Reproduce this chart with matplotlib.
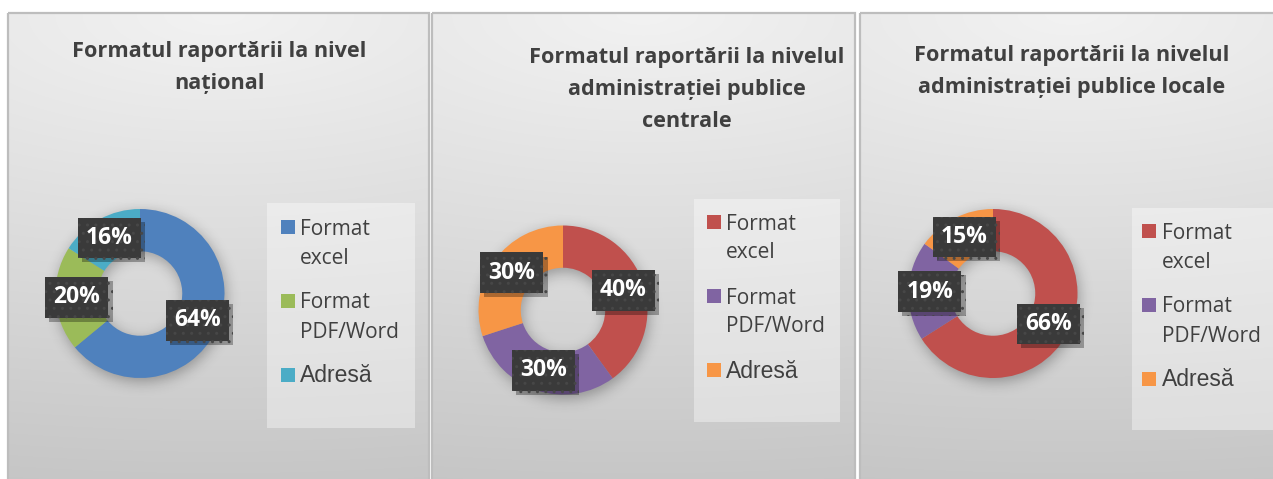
import numpy as np
import matplotlib
matplotlib.use("Agg")
import matplotlib.pyplot as plt
from matplotlib.patches import Rectangle
import matplotlib.patheffects as pe

# ---------------- data ----------------
titles = ["Formatul raportării la nivel\nnațional",
          "Formatul raportării la nivelul\nadministrației publice\ncentrale",
          "Formatul raportării la nivelul\nadministrației publice locale"]
categories = ["Format\nexcel", "Format\nPDF/Word", "Adresă"]
national = [64, 20, 16]
central = [40, 30, 30]
local = [66, 19, 15]
colors_national = ["#4F81BD", "#9BBB59", "#4BACC6"]
colors_admin = ["#C0504D", "#8064A2", "#F79646"]

series = [national, central, local]
palettes = [colors_national, colors_admin, colors_admin]

# ---------------- layout (pixels) ----------------
W, H = 1273, 479
panels_x = [(8, 429), (432, 855), (860, 1285)]
panel_top = 13
donut_c = [(140, 293.5), (563, 310), (993, 293.5)]
R = 84.5
title_xc = [219, 687, 1072]
title_y0 = [51, 57, 55]
title_dy = 32
legend_box = [(267, 203, 415, 428), (694, 199, 840, 422), (1132, 208, 1282, 430)]
legend_sq_x = [281, 707, 1142]
legend_txt_x = [300, 726, 1162]
legend_y0 = [227, 222, 231]
legend_entry_dy = 74
legend_line_dy = 29
legend_fonts = [("Open Sans", 15), ("Open Sans", 15), ("Liberation Sans", 16.5)]

TXT = "#404040"

fig = plt.figure(figsize=(W / 100, H / 100), dpi=100)
fig.patch.set_facecolor("white")

bg = fig.add_axes([0, 0, 1, 1])
bg.set_xlim(0, W)
bg.set_ylim(H, 0)
bg.axis("off")

for i in range(3):
    x0, x1 = panels_x[i]
    y0, y1 = panel_top, H + 6
    n = 200
    xs = np.linspace(0, 1, n)
    ys = np.linspace(0, 1, n)
    X, Y = np.meshgrid(xs, ys)
    d = np.sqrt(((X - 0.5) * 0.35) ** 2 + (Y * 1.0) ** 2)
    v = (242 - 44 * d) / 255.0
    img = np.dstack([v, v, v])
    bg.imshow(img, extent=(x0, x1, y1, y0), aspect="auto", zorder=0, interpolation="bilinear")
    bg.add_patch(Rectangle((x0, y0), x1 - x0, y1 - y0, fill=False,
                           edgecolor="#bdbdbd", lw=1.6, zorder=1))
    # title
    for k, line in enumerate(titles[i].split("\n")):
        bg.text(title_xc[i], title_y0[i] + k * title_dy, line, ha="center", va="center",
                fontsize=15.6, fontweight="bold", family="Open Sans", color=TXT, zorder=3)
    # legend box
    lx0, ly0, lx1, ly1 = legend_box[i]
    bg.add_patch(Rectangle((lx0, ly0), lx1 - lx0, ly1 - ly0, facecolor="white",
                           alpha=0.38, edgecolor="none", zorder=2))
    for j, cat in enumerate(categories):
        yc = legend_y0[i] + j * legend_entry_dy
        bg.add_patch(Rectangle((legend_sq_x[i], yc - 7), 14, 14,
                               facecolor=palettes[i][j], edgecolor="none", zorder=3))
        fam, fs = legend_fonts[j]
        for k, line in enumerate(cat.split("\n")):
            bg.text(legend_txt_x[i], yc + k * legend_line_dy + 7.5, line, ha="left",
                    va="baseline", fontsize=fs, family=fam, color=TXT, zorder=3)


def ring_shadow(ax, lim, inner=0.5, sigma=0.08, dy=-0.05, alpha=0.3):
    n = 280
    xs = np.linspace(-lim, lim, n)
    X, Y = np.meshgrid(xs, xs)
    Rr = np.hypot(X - 0.02, Y - dy)
    mask = ((Rr <= 1.0) & (Rr >= inner)).astype(float)
    px = 2 * lim / (n - 1)
    s = sigma / px
    k = np.arange(-int(3 * s), int(3 * s) + 1)
    g = np.exp(-k ** 2 / (2 * s * s))
    g /= g.sum()
    b = np.apply_along_axis(lambda m: np.convolve(m, g, mode="same"), 0, mask)
    b = np.apply_along_axis(lambda m: np.convolve(m, g, mode="same"), 1, b)
    im = np.zeros((n, n, 4))
    im[..., 3] = b * alpha
    ax.imshow(im, extent=(-lim, lim, -lim, lim), origin="lower", zorder=0,
              interpolation="bilinear")


lim = 1.45
for i in range(3):
    cx, cy = donut_c[i]
    size = 2 * R * lim
    ax = fig.add_axes([(cx - size / 2) / W, 1 - (cy + size / 2) / H, size / W, size / H])
    ax.patch.set_alpha(0)
    vals = series[i]
    ring_shadow(ax, lim)
    ax.pie(vals, colors=palettes[i], startangle=90, counterclock=False, radius=1.0,
           wedgeprops=dict(width=0.5, edgecolor="none"))
    ax.set_xlim(-lim, lim)
    ax.set_ylim(-lim, lim)
    ax.set_aspect("equal")
    ax.axis("off")
    total = float(sum(vals))
    cum = np.cumsum(vals)
    for v, c in zip(vals, cum):
        mid = (c - v / 2.0) / total * 360.0
        th = np.deg2rad(90 - mid)
        x, y = 0.75 * np.cos(th), 0.75 * np.sin(th)
        t = ax.text(x, y, f"{v}%", ha="center", va="center", fontsize=16.5,
                    fontweight="bold", family="Open Sans", color="white", zorder=5,
                    bbox=dict(boxstyle="square,pad=0.36", facecolor="#3a3a3a",
                              edgecolor="#474747", linewidth=0, hatch=".."))
        t.get_bbox_patch().set_path_effects([
            pe.SimplePatchShadow(offset=(3, -3), shadow_rgbFace="black", alpha=0.3),
            pe.Normal()])

fig.savefig("out.png", dpi=100, facecolor="white")
